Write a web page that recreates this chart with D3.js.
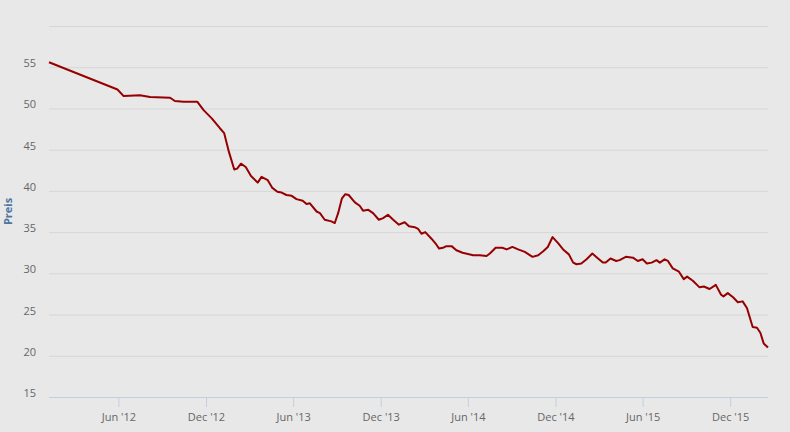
<!DOCTYPE html>
<html>
<head>
<meta charset="utf-8">
<script src="https://cdn.jsdelivr.net/npm/d3@7"></script>
<style>
  html, body { margin: 0; padding: 0; background: #e8e8e8; }
  #chart { width: 790px; height: 432px; }
  text { font-family: "Open Sans", "DejaVu Sans", sans-serif; }
</style>
</head>
<body>
<div id="chart"></div>
<script>
const dates = [
  "2012-01-08", "2012-05-30", "2012-06-12", "2012-07-16", "2012-08-06", "2012-09-17",
  "2012-09-27", "2012-10-15", "2012-11-13", "2012-11-26", "2012-12-13", "2012-12-30",
  "2013-01-08", "2013-01-18", "2013-01-29", "2013-02-04", "2013-02-12", "2013-02-22",
  "2013-03-05", "2013-03-19", "2013-03-27", "2013-04-09", "2013-04-18", "2013-04-29",
  "2013-05-08", "2013-05-18", "2013-05-29", "2013-06-08", "2013-06-21", "2013-06-29",
  "2013-07-06", "2013-07-20", "2013-07-27", "2013-08-06", "2013-08-20", "2013-08-27",
  "2013-09-03", "2013-09-11", "2013-09-18", "2013-09-25", "2013-10-08", "2013-10-18",
  "2013-10-25", "2013-11-05", "2013-11-15", "2013-11-27", "2013-12-06", "2013-12-16",
  "2013-12-27", "2014-01-08", "2014-01-20", "2014-01-29", "2014-02-10", "2014-02-17",
  "2014-02-24", "2014-03-04", "2014-03-17", "2014-03-27", "2014-04-02", "2014-04-10",
  "2014-04-17", "2014-04-28", "2014-05-08", "2014-05-21", "2014-06-12", "2014-06-26",
  "2014-07-10", "2014-07-17", "2014-07-29", "2014-08-12", "2014-08-21", "2014-09-02",
  "2014-09-14", "2014-09-28", "2014-10-14", "2014-10-26", "2014-11-06", "2014-11-15",
  "2014-11-25", "2014-12-06", "2014-12-17", "2014-12-29", "2015-01-07", "2015-01-14",
  "2015-01-24", "2015-02-04", "2015-02-16", "2015-02-28", "2015-03-10", "2015-03-16",
  "2015-03-26", "2015-04-07", "2015-04-14", "2015-04-27", "2015-05-12", "2015-05-22",
  "2015-06-01", "2015-06-10", "2015-06-20", "2015-06-30", "2015-07-07", "2015-07-17",
  "2015-07-24", "2015-08-03", "2015-08-16", "2015-08-26", "2015-09-02", "2015-09-14",
  "2015-09-28", "2015-10-07", "2015-10-19", "2015-11-01", "2015-11-12", "2015-11-17",
  "2015-11-26", "2015-12-07", "2015-12-17", "2015-12-27", "2016-01-05", "2016-01-17",
  "2016-01-26", "2016-02-02", "2016-02-09", "2016-02-18"
];

const prices = [
  55.6, 52.3, 51.5, 51.6, 51.4, 51.3,
  50.9, 50.8, 50.8, 49.8, 48.8, 47.6,
  47.0, 44.7, 42.6, 42.7, 43.3, 42.9,
  41.8, 41.0, 41.7, 41.3, 40.4, 39.9,
  39.8, 39.5, 39.4, 39.0, 38.8, 38.4,
  38.5, 37.5, 37.3, 36.5, 36.3, 36.1,
  37.3, 39.1, 39.6, 39.5, 38.6, 38.2,
  37.6, 37.7, 37.3, 36.5, 36.7, 37.1,
  36.5, 35.9, 36.2, 35.7, 35.6, 35.4,
  34.8, 35.0, 34.2, 33.5, 33.0, 33.1,
  33.3, 33.3, 32.8, 32.5, 32.2, 32.2,
  32.1, 32.4, 33.1, 33.1, 32.9, 33.2,
  32.9, 32.6, 32.0, 32.2, 32.7, 33.2,
  34.4, 33.7, 32.9, 32.3, 31.3, 31.1,
  31.2, 31.7, 32.4, 31.8, 31.3, 31.3,
  31.8, 31.5, 31.6, 32.0, 31.9, 31.5,
  31.7, 31.2, 31.3, 31.6, 31.3, 31.7,
  31.5, 30.6, 30.2, 29.3, 29.6, 29.1,
  28.3, 28.4, 28.1, 28.6, 27.4, 27.2,
  27.6, 27.1, 26.5, 26.6, 25.8, 23.5,
  23.4, 22.8, 21.5, 21.0
];

const yTicks = [15, 20, 25, 30, 35, 40, 45, 50, 55, 60];
const xTickDates = ["2012-06-01", "2012-12-01", "2013-06-01", "2013-12-01",
  "2014-06-01", "2014-12-01", "2015-06-01", "2015-12-01"];
const yTitle = "Preis";

const parse = d3.timeParse("%Y-%m-%d");
const data = dates.map((d, i) => ({ date: parse(d), value: prices[i] }));

const width = 790, height = 432;
const margin = { top: 26, right: 22, bottom: 35, left: 49 };
const innerW = width - margin.left - margin.right;
const innerH = height - margin.top - margin.bottom;

const x = d3.scaleTime()
  .domain(d3.extent(data, d => d.date))
  .range([0, innerW]);

const y = d3.scaleLinear()
  .domain([15, 60])
  .range([innerH, 0]);

const svg = d3.select("#chart")
  .append("svg")
  .attr("width", width)
  .attr("height", height);

svg.append("rect")
  .attr("width", width)
  .attr("height", height)
  .attr("fill", "#e8e8e8");

const g = svg.append("g")
  .attr("transform", "translate(" + margin.left + "," + margin.top + ")");

// grid

const yAxis = d3.axisLeft(y)
  .tickValues(yTicks)
  .tickSize(-innerW)
  .tickPadding(13)
  .tickFormat(d => d === 60 ? "" : d);

g.append("g")
  .call(yAxis)
  .call(a => a.select(".domain").remove())
  .call(a => a.selectAll(".tick line").attr("stroke", "#d6d6d6"))
  .call(a => a.selectAll(".tick text")
    .attr("fill", "#666")
    .attr("font-size", 11)
    .attr("dy", "-0.05em"));

// x axis

const xAxis = d3.axisBottom(x)
  .tickValues(xTickDates.map(parse))
  .tickSize(10)
  .tickPadding(6)
  .tickFormat(d3.timeFormat("%b '%y"));

g.append("g")
  .attr("transform", "translate(0," + innerH + ")")
  .call(xAxis)
  .call(a => a.select(".domain").attr("stroke", "#c0d0e0").attr("d", "M0,0.5H" + innerW))
  .call(a => a.selectAll(".tick line").attr("stroke", "#c0d0e0"))
  .call(a => a.selectAll(".tick text")
    .attr("fill", "#666")
    .attr("font-size", 11));

// axis title

svg.append("text")
  .attr("transform", "translate(12," + (margin.top + innerH / 2) + ") rotate(-90)")
  .attr("text-anchor", "middle")
  .attr("fill", "#4d759e")
  .attr("font-size", 11)
  .attr("font-weight", "bold")
  .text(yTitle);

// line

const line = d3.line()
  .x(d => x(d.date))
  .y(d => y(d.value));

g.append("path")
  .datum(data)
  .attr("fill", "none")
  .attr("stroke", "#960000")
  .attr("stroke-width", 2)
  .attr("stroke-linejoin", "round")
  .attr("d", line);
</script>
</body>
</html>
